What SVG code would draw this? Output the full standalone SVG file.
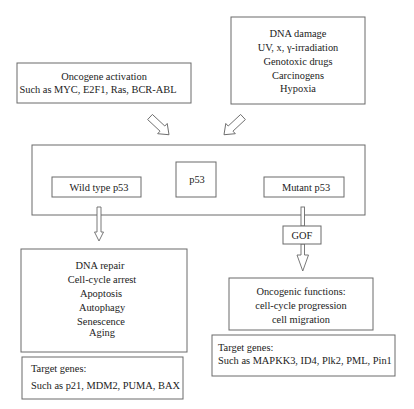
<svg xmlns="http://www.w3.org/2000/svg" width="414" height="409" viewBox="0 0 414 409">
<style>
.b{fill:#fff;stroke:#6a6a6a;stroke-width:1}
.a{fill:#fff;stroke:#6a6a6a;stroke-width:0.9;stroke-linejoin:miter}
text{font-family:"Liberation Serif","Times New Roman",serif;font-size:10.4px;fill:#222}
.c{text-anchor:middle}
</style>
<rect width="414" height="409" fill="#fff"/>
<g id="oncogene">
<rect class="b" x="17" y="63" width="174" height="40"/>
<text class="c" x="104" y="80">Oncogene activation</text>
<text class="c" x="98" y="93">Such as MYC, E2F1, Ras, BCR-ABL</text>
</g>
<g id="dnadamage">
<rect class="b" x="231" y="17" width="134" height="87"/>
<text class="c" x="298" y="37">DNA damage</text>
<text class="c" x="298" y="51">UV, x, γ-irradiation</text>
<text class="c" x="298" y="65">Genotoxic drugs</text>
<text class="c" x="298" y="79">Carcinogens</text>
<text class="c" x="298" y="92">Hypoxia</text>
</g>
<g id="p53main">
<rect class="b" x="32" y="145" width="333" height="70"/>
</g>
<g id="p53">
<rect class="b" x="176" y="162" width="40" height="35"/>
<text class="c" x="197" y="183">p53</text>
</g>
<g id="wildtype">
<rect class="b" x="52" y="177" width="89" height="20"/>
<text class="c" x="99" y="191">Wild type p53</text>
</g>
<g id="mutant">
<rect class="b" x="264" y="177" width="80" height="20"/>
<text class="c" x="306" y="191">Mutant p53</text>
</g>
<g id="connectors">
<polygon class="a" transform="translate(150,117) rotate(43)" points="0,-3.5 17,-3.5 17,-7 26,0 17,7 17,3.5 0,3.5"/>
<polygon class="a" transform="translate(243,117) rotate(137)" points="0,-3.5 17,-3.5 17,-7 26,0 17,7 17,3.5 0,3.5"/>
<polygon class="a" points="97,207 101,207 101,232 103.5,232 99,241 94.5,232 97,232"/>
<rect class="a" x="301" y="207" width="3.5" height="19"/>
<polygon class="a" points="301,244 304.5,244 304.5,255 308.5,255 302.75,271 297,255 301,255"/>
</g>
<g id="gof">
<rect class="b" x="283" y="226" width="38" height="18"/>
<text class="c" x="302" y="239">GOF</text>
</g>
<g id="wtfunctions">
<rect class="b" x="21" y="249" width="166" height="103"/>
<text class="c" x="100" y="269">DNA repair</text>
<text class="c" x="102" y="283">Cell-cycle arrest</text>
<text class="c" x="101" y="297">Apoptosis</text>
<text class="c" x="102" y="311">Autophagy</text>
<text class="c" x="101" y="325">Senescence</text>
<text class="c" x="102" y="336">Aging</text>
</g>
<g id="wttargets">
<rect class="b" x="22" y="357" width="161" height="42"/>
<text x="31" y="372">Target genes:</text>
<text x="31" y="389">Such as p21, MDM2, PUMA, BAX</text>
</g>
<g id="oncofunctions">
<rect class="b" x="229" y="278" width="144" height="52"/>
<text class="c" x="301" y="295">Oncogenic functions:</text>
<text class="c" x="301" y="309">cell-cycle progression</text>
<text class="c" x="301" y="323">cell migration</text>
</g>
<g id="muttargets">
<rect class="b" x="212" y="335" width="183" height="41"/>
<text x="218" y="351">Target genes:</text>
<text x="218" y="364">Such as MAPKK3, ID4, Plk2, PML, Pin1</text>
</g>
</svg>
